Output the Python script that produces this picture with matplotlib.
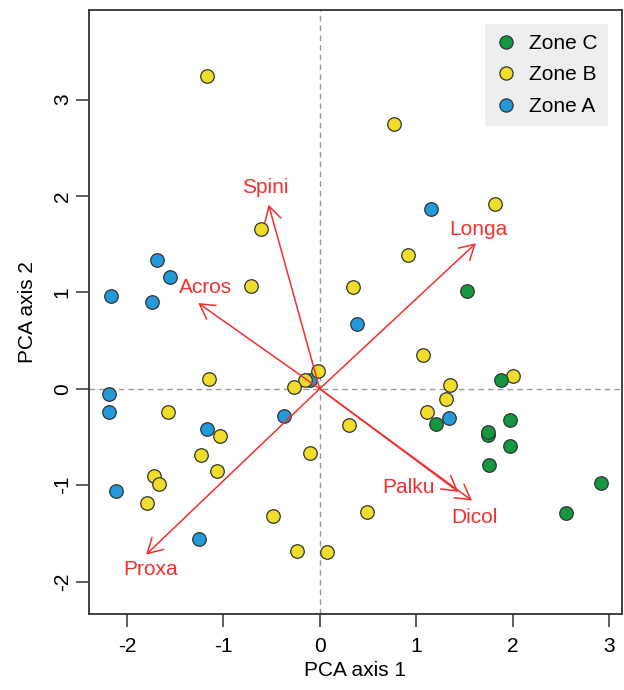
import matplotlib
matplotlib.use("Agg")
import matplotlib.pyplot as plt
from matplotlib.patches import FancyArrowPatch
from matplotlib.lines import Line2D

plt.rcParams['font.family'] = ['Liberation Sans', 'DejaVu Sans']
plt.rcParams['axes.unicode_minus'] = False

# site scores, per zone
zone_a_x = [-2.16, -1.69, -1.55, -1.74, 1.15, 0.39, -0.10, -2.19, -2.18, -0.37, -1.17, -2.11, -1.25, 1.34]
zone_a_y = [0.96, 1.34, 1.16, 0.90, 1.87, 0.67, 0.09, -0.05, -0.24, -0.28, -0.42, -1.06, -1.56, -0.30]

zone_b_x = [-1.17, -0.61, -0.71, 0.77, 1.82, 0.92, 0.35, -1.15, -0.02, -0.15, -0.27, -1.57, -1.03,
            -1.23, -0.10, -1.07, -1.72, -1.67, -1.79, -0.48, -0.24, 1.07, 2.00, 1.35, 1.31, 1.11,
            0.30, 0.49, 0.08]
zone_b_y = [3.25, 1.66, 1.07, 2.75, 1.92, 1.39, 1.06, 0.10, 0.18, 0.095, 0.02, -0.24, -0.49,
            -0.69, -0.67, -0.85, -0.90, -0.99, -1.19, -1.32, -1.68, 0.35, 0.13, 0.04, -0.11, -0.24,
            -0.38, -1.28, -1.69]

zone_c_x = [1.53, 1.88, 1.21, 1.97, 1.75, 1.75, 1.97, 1.76, 2.92, 2.55]
zone_c_y = [1.01, 0.095, -0.37, -0.32, -0.48, -0.45, -0.59, -0.79, -0.98, -1.29]

# variable loadings (arrow tips) and label positions
var_names = ['Spini', 'Acros', 'Longa', 'Proxa', 'Palku', 'Dicol']
var_x = [-0.53, -1.26, 1.62, -1.80, 1.44, 1.58]
var_y = [1.91, 0.89, 1.51, -1.72, -1.07, -1.16]
lab_x = [-0.56, -1.18, 1.65, -1.75, 0.92, 1.60]
lab_y = [2.09, 1.05, 1.65, -1.88, -1.02, -1.34]

col_a = '#2299d8'
col_b = '#efdc2b'
col_c = '#14973f'
red = '#f2302e'
fs = 15

fig = plt.figure(figsize=(6.24, 6.90), dpi=100)
ax = fig.add_axes([0.143, 0.1097, 0.853, 0.8758])

ax.axhline(0, color='#999999', lw=1, ls=(0, (4, 3)), zorder=1)
ax.axvline(0, color='#999999', lw=1, ls=(0, (4, 3)), zorder=1)

for xs, ys, c in [(zone_a_x, zone_a_y, col_a), (zone_b_x, zone_b_y, col_b), (zone_c_x, zone_c_y, col_c)]:
    ax.scatter(xs, ys, s=95, c=c, edgecolors='#333333', linewidths=0.9, zorder=3)

for i in range(len(var_names)):
    arr = FancyArrowPatch((0, 0), (var_x[i], var_y[i]), arrowstyle='->,head_length=10.5,head_width=6',
                          mutation_scale=1, color=red, lw=1.1, shrinkA=0, shrinkB=0, zorder=4)
    ax.add_patch(arr)
    ax.text(lab_x[i], lab_y[i], var_names[i], color=red, fontsize=fs, ha='center', va='center', zorder=5)

ax.set_xlim(-2.39, 3.13)
ax.set_ylim(-2.34, 3.93)
ax.set_xticks([-2, -1, 0, 1, 2, 3])
ax.set_yticks([-2, -1, 0, 1, 2, 3])
ax.tick_params(axis='both', length=9.5, width=1.1, color='#333333', labelsize=fs)
ax.tick_params(axis='x', pad=7)
ax.tick_params(axis='y', pad=3)
for lab in ax.get_yticklabels():
    lab.set_rotation(90)
    lab.set_va('center')
for sp in ax.spines.values():
    sp.set_linewidth(1.3)
    sp.set_color('#333333')

ax.set_xlabel('PCA axis 1', fontsize=fs)
ax.set_ylabel('PCA axis 2', fontsize=fs)
ax.xaxis.set_label_coords(0.5, -0.077)
ax.yaxis.set_label_coords(-0.098, 0.5)

handles = [Line2D([], [], ls='none', marker='o', ms=9.5, mfc=c, mec='#333333', mew=0.9)
           for c in [col_c, col_b, col_a]]
leg = ax.legend(handles, ['Zone C', 'Zone B', 'Zone A'], loc='upper right', fontsize=fs,
                frameon=True, fancybox=False, framealpha=1, facecolor='#eceeef', edgecolor='none',
                borderaxespad=0.65, labelspacing=0.6, handlelength=1.0, handletextpad=0.6,
                borderpad=0.5)

fig.savefig('out.png', dpi=100)
